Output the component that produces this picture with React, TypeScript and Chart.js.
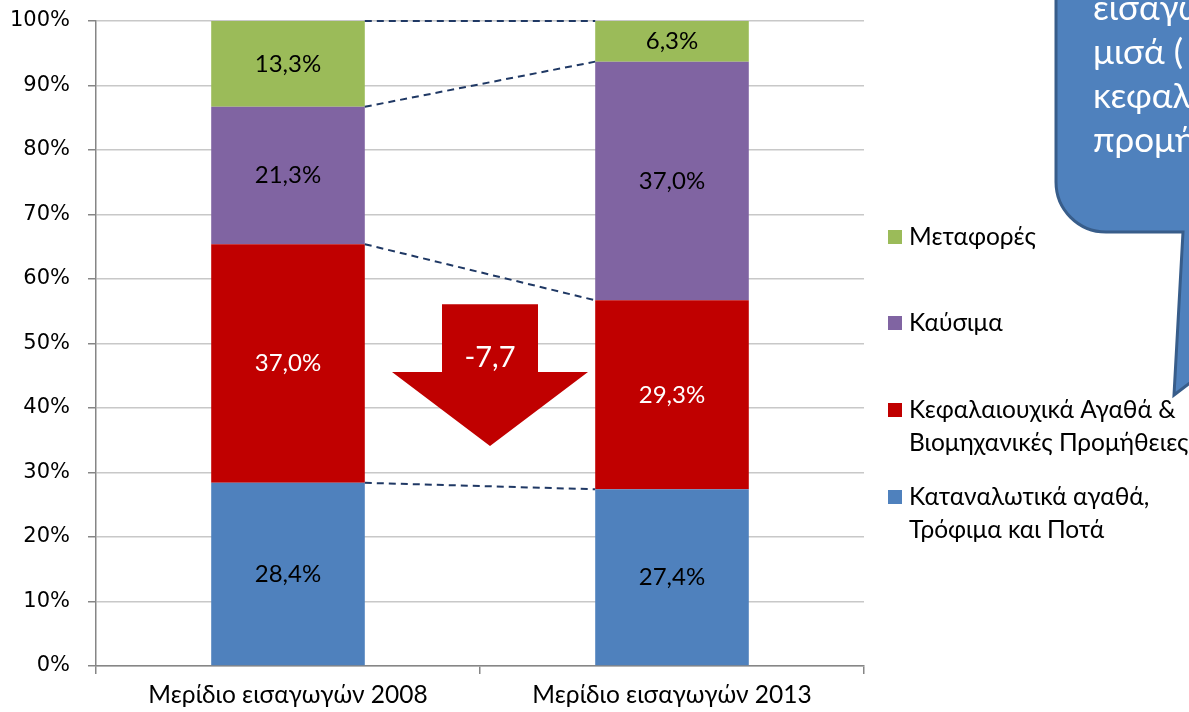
import React, { useEffect, useRef } from "react";
import { Chart, registerables } from "chart.js";

Chart.register(...registerables);

const categories = ["Μερίδιο εισαγωγών 2008", "Μερίδιο εισαγωγών 2013"];
const consumerGoods = [28.4, 27.4];
const capitalGoods = [37.0, 29.3];
const fuels = [21.3, 37.0];
const transport = [13.3, 6.3];
const seriesLabels = [
  "Καταναλωτικά αγαθά, Τρόφιμα και Ποτά",
  "Κεφαλαιουχικά Αγαθά & Βιομηχανικές Προμήθειες",
  "Καύσιμα",
  "Μεταφορές",
];
const legendLines = [
  ["Καταναλωτικά αγαθά,", "Τρόφιμα και Ποτά"],
  ["Κεφαλαιουχικά Αγαθά &", "Βιομηχανικές Προμήθειες"],
  ["Καύσιμα"],
  ["Μεταφορές"],
];
const seriesColors = ["#4F81BD", "#C00000", "#8064A2", "#9BBB59"];
const labelColors = ["#000000", "#FFFFFF", "#000000", "#000000"];
const yTickValues = [0, 10, 20, 30, 40, 50, 60, 70, 80, 90, 100];
const changeText = "-7,7";
// arrow geometry in value units (top of shaft, top of head, tip)
const arrowLevels = [56.1, 45.6, 34.1];
const calloutLines = ["εισαγωγών", "μισά (", "κεφαλαιουχικά", "προμήθειες"];

const fmt = (v: number) => v.toFixed(1).replace(".", ",") + "%";

export default function App() {
  const ref = useRef<HTMLCanvasElement | null>(null);

  useEffect(() => {
    document.body.style.margin = "0";
    const canvas = ref.current;
    if (!canvas) return;
    const series = [consumerGoods, capitalGoods, fuels, transport];

    const overlay = {
      id: "overlay",
      afterDatasetsDraw(chart: any) {
        const ctx = chart.ctx;
        const metas = series.map((_, i) => chart.getDatasetMeta(i));
        // dashed connectors
        ctx.save();
        ctx.strokeStyle = "#1F3864";
        ctx.lineWidth = 2;
        ctx.setLineDash([7, 5]);
        metas.forEach((m: any) => {
          const a = m.data[0];
          const b = m.data[1];
          ctx.beginPath();
          ctx.moveTo(a.x + a.width / 2, a.y);
          ctx.lineTo(b.x - b.width / 2, b.y);
          ctx.stroke();
        });
        ctx.restore();
        // data labels
        ctx.save();
        ctx.font = "24px Lato";
        ctx.textAlign = "center";
        ctx.textBaseline = "middle";
        metas.forEach((m: any, i: number) => {
          m.data.forEach((el: any, j: number) => {
            ctx.fillStyle = labelColors[i];
            ctx.fillText(fmt(series[i][j]), el.x, (el.y + el.base) / 2);
          });
        });
        ctx.restore();
      },
      afterDraw(chart: any) {
        const ctx = chart.ctx;
        const xs = chart.scales.x;
        const ys = chart.scales.y;
        // arrow
        const cx = (xs.getPixelForValue(0) + xs.getPixelForValue(1)) / 2 + 10;
        const yTop = ys.getPixelForValue(arrowLevels[0]);
        const yHead = ys.getPixelForValue(arrowLevels[1]);
        const yTip = ys.getPixelForValue(arrowLevels[2]);
        ctx.save();
        ctx.fillStyle = "#C00000";
        ctx.beginPath();
        ctx.moveTo(cx - 48, yTop);
        ctx.lineTo(cx + 48, yTop);
        ctx.lineTo(cx + 48, yHead);
        ctx.lineTo(cx + 98, yHead);
        ctx.lineTo(cx, yTip);
        ctx.lineTo(cx - 98, yHead);
        ctx.lineTo(cx - 48, yHead);
        ctx.closePath();
        ctx.fill();
        ctx.fillStyle = "#FFFFFF";
        ctx.font = "29px Lato";
        ctx.textAlign = "center";
        ctx.textBaseline = "middle";
        ctx.fillText(changeText, cx, (yTop + yHead) / 2 + 20);
        ctx.restore();

        // callout
        ctx.save();
        const L = 1056, B = 232, r = 50;
        ctx.beginPath();
        ctx.moveTo(L, -50);
        ctx.lineTo(L, B - r);
        ctx.arcTo(L, B, L + r, B, r);
        ctx.lineTo(1183, B);
        ctx.lineTo(1174, 395);
        ctx.lineTo(1260, 330);
        ctx.lineTo(1260, -50);
        ctx.closePath();
        ctx.fillStyle = "#4F81BD";
        ctx.fill();
        ctx.strokeStyle = "#385D8A";
        ctx.lineWidth = 3;
        ctx.stroke();
        ctx.fillStyle = "#FFFFFF";
        ctx.font = "35px Lato";
        ctx.textAlign = "left";
        ctx.textBaseline = "alphabetic";
        calloutLines.forEach((t, i) => ctx.fillText(t, 1093, 20 + i * 44));
        ctx.restore();

        // legend
        ctx.save();
        ctx.font = "24.5px Lato";
        ctx.textBaseline = "middle";
        ctx.textAlign = "left";
        const legendY = [497, 410, 323, 237];
        seriesLabels.forEach((_, i) => {
          const y = legendY[i];
          ctx.fillStyle = seriesColors[i];
          ctx.fillRect(888, y - 7, 14, 14);
          ctx.fillStyle = "#000000";
          legendLines[i].forEach((t, k) => ctx.fillText(t, 909, y + k * 33));
        });
        ctx.restore();
      },
    };

    const chart = new Chart(canvas, {
      type: "bar",
      data: {
        labels: categories,
        datasets: series.map((d, i) => ({
          label: seriesLabels[i],
          data: d,
          backgroundColor: seriesColors[i],
          borderWidth: 0,
          barPercentage: 0.4,
          categoryPercentage: 1,
        })),
      },
      options: {
        animation: false,
        responsive: false,
        layout: { padding: { top: 21, right: 325, left: 0, bottom: 0 } },
        plugins: { legend: { display: false }, tooltip: { enabled: false } },
        scales: {
          x: {
            stacked: true,
            afterFit: (s: any) => {
              s.height = 46;
              s.paddingLeft = 0;
              s.paddingRight = 0;
            },
            grid: {
              offset: true,
              drawOnChartArea: false,
              drawTicks: true,
              tickLength: 8,
              tickColor: "#868686",
              lineWidth: 1.5,
            },
            border: { color: "#868686", width: 1.5 },
            ticks: { color: "#000", font: { family: "Lato", size: 24.5 }, padding: 6 },
          },
          y: {
            stacked: true,
            min: 0,
            max: 100,
            afterFit: (s: any) => {
              s.width = 96;
              s.paddingTop = 0;
              s.paddingBottom = 0;
            },
            afterBuildTicks: (s: any) => { s.ticks = yTickValues.map((v) => ({ value: v })); },
            grid: {
              color: "#C8C8C8",
              lineWidth: 1.5,
              tickLength: 8,
              tickColor: "#868686",
            },
            border: { color: "#868686", width: 1.5 },
            ticks: {
              color: "#000",
              font: { family: "DejaVu Sans", size: 21 },
              padding: 18,
              callback: (v: any) => v + "%",
            },
          },
        },
      },
      plugins: [overlay],
    });
    return () => chart.destroy();
  }, []);

  return (
    <div style={{ position: "absolute", left: 0, top: 0, width: 1189, height: 712 }}>
      <canvas ref={ref} width={1189} height={712} />
    </div>
  );
}
